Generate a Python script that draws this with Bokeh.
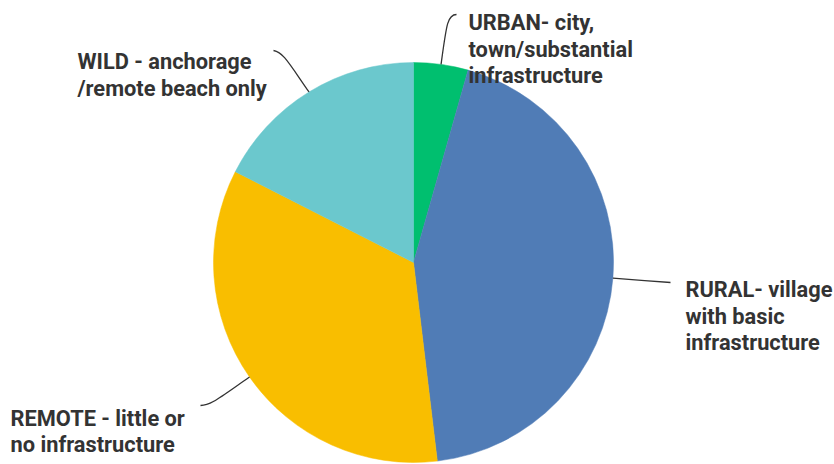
import numpy as np
from bokeh.plotting import figure
from bokeh.models import Range1d
from bokeh.embed import file_html
from bokeh.resources import INLINE
from bokeh.core.properties import value

# ---- data ----
categories = [
    "URBAN- city,\ntown/substantial\ninfrastructure",
    "RURAL- village\nwith basic\ninfrastructure",
    "REMOTE - little or\nno infrastructure",
    "WILD - anchorage\n/remote beach only",
]
shares = [4.4, 43.7, 34.4, 17.5]
colors = ["#00BF6F", "#507CB6", "#F9BE00", "#6BC8CD"]

# ---- layout ----
W, H = 834, 464
CX, CY, R = 413, 262, 200          # pixel coords (y down)
FONT = "Roboto"
FONT_SIZE = "21.8px"
TEXT_COLOR = "#333333"
LINE_COLOR = "#333333"

def fy(y):
    return H - y

p = figure(width=W, height=H, x_range=Range1d(0, W), y_range=Range1d(0, H),
           output_backend="svg", toolbar_location=None, min_border=0,
           outline_line_color=None, background_fill_color="white",
           border_fill_color="white")
p.axis.visible = False
p.grid.visible = False

frac = np.array(shares) / np.sum(shares)
cum = np.concatenate([[0], np.cumsum(frac)])
start = np.pi / 2 - cum[:-1] * 2 * np.pi
end = np.pi / 2 - cum[1:] * 2 * np.pi

p.wedge(x=[CX] * len(shares), y=[fy(CY)] * len(shares), radius=R,
        start_angle=start, end_angle=end, direction="clock",
        fill_color=colors, line_color=colors, line_width=0.5)

# leader lines start on the rim at each slice's mid-angle
mid = (cum[:-1] + cum[1:]) / 2 * 2 * np.pi   # clockwise from top
sx = CX + R * np.sin(mid)
sy = CY - R * np.cos(mid)

# (control1, control2, end) for each leader, pixel coords
leaders = [
    ((446, 24), (447, 14), (456, 14)),
    ((640, 280), (655, 281), (670, 282)),
    ((218, 398), (210, 405), (200, 405)),
    ((288, 62), (283, 52), (273, 50)),
]
for i, (c1, c2, e) in enumerate(leaders):
    p.bezier(x0=[sx[i]], y0=[fy(sy[i])], x1=[e[0]], y1=[fy(e[1])],
             cx0=[c1[0]], cy0=[fy(c1[1])], cx1=[c2[0]], cy1=[fy(c2[1])],
             line_color=LINE_COLOR, line_width=1.3)

# label anchor: left x, first baseline y, line spacing
label_pos = [(468, 22, 26.5), (685, 289, 26.5), (10, 418, 26), (77, 61, 27)]
for lab, (lx, ly, ls) in zip(categories, label_pos):
    lines = lab.split("\n")
    p.text(x=[lx] * len(lines), y=[fy(ly + k * ls) for k in range(len(lines))],
           text=lines, text_font=value(FONT), text_font_size=FONT_SIZE,
           text_font_style="bold", text_color=TEXT_COLOR,
           text_baseline="alphabetic", text_align="left")

open("out.html", "w").write(file_html(p, INLINE))
